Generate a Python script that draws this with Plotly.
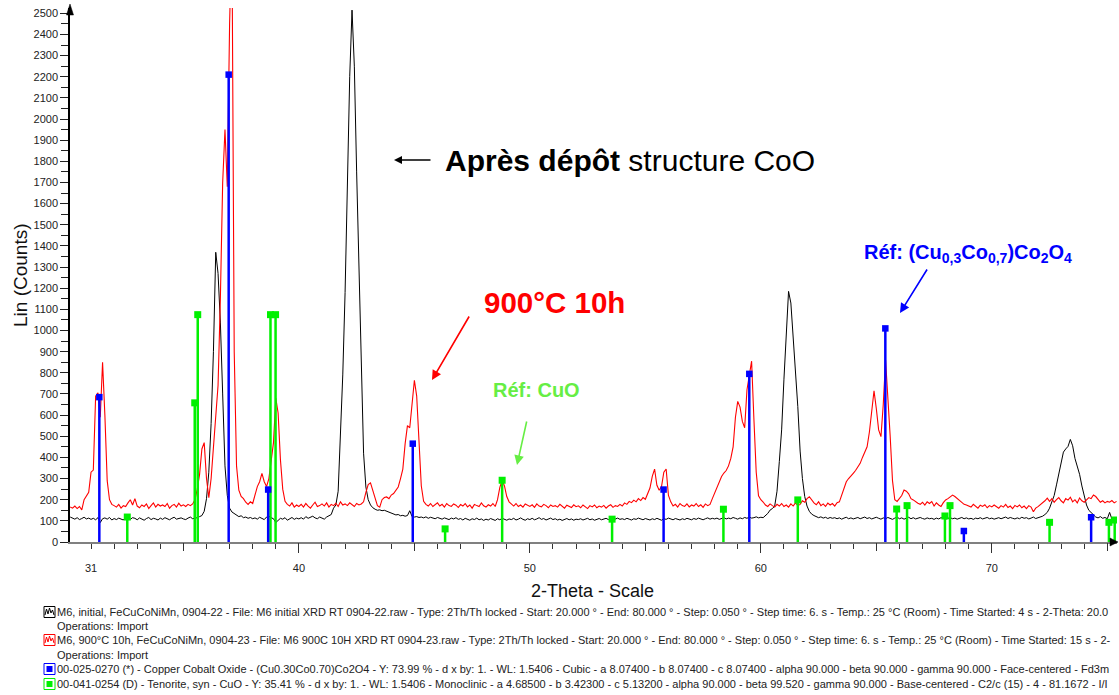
import numpy as np
import plotly.graph_objects as go

FONT = "Liberation Sans, Arial, sans-serif"

# ---------------- scan data (2-Theta, step 0.1 deg, start 30.1) ----------------
SCAN_START = 30.1
SCAN_STEP = 0.1

# M6, initial (black)
black_counts = [
    118, 112, 108, 115, 106, 111, 117, 109, 113, 107,   # 30.1-31.0
    112, 105, 115, 92, 110, 114, 108, 116, 104, 111,    # 31
    106, 113, 109, 104, 118, 110, 107, 115, 112, 105,   # 32
    114, 108, 103, 111, 116, 106, 112, 109, 104, 113,   # 33
    107, 115, 110, 105, 112, 117, 108, 111, 114, 109,   # 34
    106, 113, 118, 110, 112, 115, 120, 125, 145, 205,   # 35
    330, 560, 900, 1370, 1270, 1040, 700, 360, 220, 160,  # 36
    142, 135, 128, 120, 124, 115, 118, 112, 116, 110,   # 37
    114, 108, 117, 112, 106, 118, 122, 115, 110, 92,    # 38
    104, 112, 108, 115, 103, 110, 116, 107, 113, 109,   # 39
    115, 108, 120, 112, 117, 122, 114, 110, 118, 112,   # 40
    108, 118, 125, 130, 160, 175, 240, 480, 790, 1180,  # 41
    1680, 2200, 2515, 2250, 1750, 1300, 850, 420, 260, 200,  # 42
    175, 162, 155, 150, 152, 148, 150, 146, 140, 135,   # 43
    132, 128, 130, 124, 126, 122, 125, 148, 120, 118,   # 44
    120, 116, 118, 114, 119, 112, 117, 113, 110, 116,   # 45
    112, 108, 114, 110, 106, 113, 109, 115, 107, 111,   # 46
    104, 112, 108, 103, 110, 106, 113, 105, 109, 102,   # 47
    108, 104, 111, 106, 102, 110, 105, 112, 107, 103,   # 48
    109, 106, 112, 104, 108, 114, 107, 103, 110, 106,   # 49
    112, 105, 109, 115, 107, 111, 104, 108, 113, 106,   # 50
    110, 104, 108, 102, 107, 111, 105, 109, 103, 108,   # 51
    106, 110, 104, 108, 112, 105, 109, 103, 107, 111,   # 52
    105, 108, 112, 106, 110, 104, 109, 113, 107, 110,   # 53
    106, 112, 108, 104, 110, 107, 113, 109, 105, 111,   # 54
    108, 104, 110, 106, 112, 108, 103, 110, 107, 113,   # 55
    109, 105, 111, 107, 104, 110, 106, 112, 108, 105,   # 56
    111, 107, 113, 109, 105, 110, 114, 108, 112, 109,   # 57
    113, 107, 111, 115, 109, 113, 110, 116, 112, 108,   # 58
    114, 110, 116, 112, 118, 113, 115, 119, 114, 117,   # 59
    115, 123, 135, 151, 158, 170, 240, 380, 530, 770,   # 60
    1000, 1185, 1130, 980, 810, 640, 430, 300, 215, 170,  # 61
    145, 132, 125, 121, 115, 119, 113, 117, 111, 116,   # 62
    112, 115, 110, 114, 108, 113, 117, 110, 114, 109,   # 63
    113, 116, 110, 114, 118, 111, 115, 109, 113, 117,   # 64
    112, 108, 114, 110, 116, 111, 107, 113, 118, 110,   # 65
    114, 108, 112, 117, 110, 115, 109, 113, 116, 111,   # 66
    108, 114, 110, 112, 107, 113, 109, 115, 111, 108,   # 67
    112, 115, 110, 113, 108, 111, 116, 110, 114, 109,   # 68
    112, 107, 113, 110, 115, 109, 112, 116, 110, 113,   # 69
    108, 112, 115, 110, 114, 118, 111, 116, 112, 109,   # 70
    114, 110, 117, 112, 115, 109, 113, 118, 111, 115,   # 71
    118, 122, 130, 140, 160, 190, 220, 270, 325, 380,   # 72
    425, 440, 452, 485, 455, 395, 360, 320, 265, 220,   # 73
    175, 150, 138, 125, 118, 114, 120, 112, 116, 110,   # 74
    140, 108, 115, 112,                                 # 75.1-75.4
]

# M6, 900°C 10h (red)
red_counts = [
    165, 160, 170, 158, 168, 152, 200, 218, 235, 330,   # 30
    340, 690, 705, 590, 850, 600, 290, 200, 178, 172,   # 31
    165, 178, 160, 172, 168, 185, 200, 175, 205, 170,   # 32
    162, 175, 168, 180, 158, 172, 185, 165, 178, 170,   # 33
    175, 168, 182, 160, 172, 178, 165, 183, 170, 176,   # 34
    168, 178, 172, 180, 200, 250, 320, 440, 470, 300,   # 35
    210, 300, 440, 580, 740, 1150, 1700, 1950, 1680, 2450,  # 36
    2900, 900, 360, 245, 215, 205, 188, 178, 190, 182,  # 37
    225, 262, 285, 325, 285, 262, 300, 400, 470, 680,   # 38
    610, 390, 250, 192, 178, 170, 185, 165, 175, 168,   # 39
    178, 165, 182, 170, 160, 175, 188, 168, 172, 180,   # 40
    170, 185, 165, 178, 172, 183, 168, 190, 175, 180,   # 41
    172, 185, 178, 168, 182, 175, 180, 190, 235, 272,   # 42
    280, 245, 200, 172, 165, 200, 210, 213, 205, 222,   # 43
    229, 245, 260, 300, 345, 465, 550, 540, 640, 765,   # 44
    690, 470, 265, 192, 178, 170, 182, 168, 175, 185,   # 45
    170, 178, 165, 182, 172, 168, 180, 174, 163, 177,   # 46
    170, 182, 166, 175, 160, 178, 172, 168, 185, 171,   # 47
    165, 176, 170, 182, 168, 200, 258, 292, 265, 215,   # 48
    190, 178, 170, 182, 168, 175, 165, 180, 172, 168,   # 49
    176, 164, 180, 170, 166, 178, 172, 162, 175, 168,   # 50
    172, 165, 178, 168, 160, 174, 170, 163, 176, 167,   # 51
    171, 162, 175, 168, 158, 172, 166, 175, 162, 170,   # 52
    165, 173, 160, 170, 176, 164, 172, 168, 178, 170,   # 53
    185, 178, 192, 186, 198, 190, 205, 196, 210, 202,   # 54
    228, 255, 310, 345, 268, 245, 262, 330, 345, 220,   # 55
    190, 170, 178, 165, 182, 172, 168, 180, 166, 175,   # 56
    170, 182, 168, 176, 164, 180, 172, 178, 205, 230,   # 57
    262, 285, 310, 326, 338, 360, 395, 450, 590, 665,   # 58
    638, 570, 540, 720, 800, 855, 580, 330, 218, 200,   # 59
    189, 175, 168, 180, 172, 165, 178, 170, 182, 168,   # 60
    175, 165, 180, 170, 185, 172, 178, 195, 188, 205,   # 61
    214, 198, 185, 176, 190, 172, 180, 168, 184, 175,   # 62
    182, 170, 186, 190, 220, 250, 285, 300, 315, 325,   # 63
    338, 355, 372, 400, 425, 450, 520, 630, 715, 630,   # 64
    530, 498, 650, 860, 690, 500, 290, 200, 192, 205,   # 65
    220, 246, 240, 228, 205, 199, 190, 183, 178, 188,   # 66
    175, 190, 182, 191, 170, 185, 175, 168, 186, 199,   # 67
    205, 214, 222, 215, 205, 199, 188, 178, 175, 170,   # 68
    165, 178, 170, 160, 174, 168, 176, 162, 172, 166,   # 69
    175, 168, 160, 172, 165, 178, 163, 170, 158, 173,   # 70
    166, 175, 162, 170, 158, 172, 165, 143, 160, 167,   # 71
    175, 185, 195, 207, 192, 205, 188, 200, 210, 195,   # 72
    185, 205, 198, 212, 190, 200, 185, 208, 195, 188,   # 73
    198, 210, 205, 222, 215, 199, 188, 195, 185, 192,   # 74
    188, 196, 185, 192,                                 # 75.1-75.4
]

assert len(black_counts) == len(red_counts), (len(black_counts), len(red_counts))
two_theta = np.round(SCAN_START + SCAN_STEP * np.arange(len(black_counts)), 2)

# ---------------- reference patterns ----------------
# 00-025-0270 (Cu0.30Co0.70)Co2O4  (blue)
blue_pos = [31.36, 36.96, 38.67, 44.93, 55.79, 59.50, 65.39, 68.79, 74.30]
blue_int = [685, 2210, 248, 465, 248, 795, 1010, 52, 117]
# 00-041-0254 CuO tenorite (green)
green_pos = [32.57, 35.49, 35.62, 38.77, 38.99, 46.33, 48.80, 53.56, 58.38,
             61.60, 65.88, 66.33, 67.97, 68.19, 72.50, 75.07, 75.32]
green_int = [118, 658, 1075, 1075, 1075, 62, 292, 108, 155,
             199, 156, 172, 123, 172, 93, 93, 104]

x_tick_vals = [31, 40, 50, 60, 70]
x_mid_ticks = [35, 45, 55, 65, 75]
x_long_ticks = [40, 50, 60, 70]
X_RANGE = [30.09, 75.42]
Y_RANGE = [0, 2525]

BLUE = "#0000FF"
GREEN = "#00F000"
RED = "#FF0000"
LIGHT_GREEN = "#66EE44"

# ---------------- figure ----------------
W, H = 1119, 695
ML, MR, MT, MB = 70, 2, 8, 153
PW, PH = W - ML - MR, H - MT - MB


def PX(px):
    return (px - ML) / PW


def PY(py):
    return (H - MB - py) / PH


def sticks(pos, hts):
    xs, ys = [], []
    for p, h in zip(pos, hts):
        xs += [p, p, None]
        ys += [0, h, None]
    return xs, ys


fig = go.Figure()
fig.add_trace(go.Scatter(x=two_theta, y=black_counts, mode="lines",
                         line=dict(color="black", width=1), hoverinfo="skip"))
fig.add_trace(go.Scatter(x=two_theta, y=red_counts, mode="lines",
                         line=dict(color=RED, width=1.1), hoverinfo="skip"))
gx, gy = sticks(green_pos, green_int)
fig.add_trace(go.Scatter(x=gx, y=gy, mode="lines", line=dict(color=GREEN, width=2.5),
                         hoverinfo="skip"))
bx, by = sticks(blue_pos, blue_int)
fig.add_trace(go.Scatter(x=bx, y=by, mode="lines", line=dict(color=BLUE, width=2.5),
                         hoverinfo="skip"))
fig.add_trace(go.Scatter(x=green_pos, y=green_int, mode="markers",
                         marker=dict(symbol="square", size=7, color=GREEN), hoverinfo="skip"))
fig.add_trace(go.Scatter(x=blue_pos, y=blue_int, mode="markers",
                         marker=dict(symbol="square", size=6.5, color=BLUE), hoverinfo="skip"))
# carriers for the overlay tick axes
fig.add_trace(go.Scatter(x=[None], y=[None], xaxis="x2", yaxis="y", showlegend=False))
fig.add_trace(go.Scatter(x=[None], y=[None], xaxis="x3", yaxis="y", showlegend=False))

tick_font = dict(family=FONT, size=11, color="#222")

fig.update_layout(
    width=W, height=H,
    margin=dict(l=ML, r=MR, t=MT, b=MB),
    paper_bgcolor="white", plot_bgcolor="white",
    showlegend=False,
    font=dict(family=FONT, color="#222"),
    xaxis=dict(range=X_RANGE, tickmode="array", tickvals=x_tick_vals,
               ticktext=[str(v) for v in x_tick_vals],
               ticks="outside", ticklen=5, tickwidth=1.2, tickcolor="#333",
               minor=dict(tickmode="linear", tick0=30, dtick=1, ticks="outside",
                          ticklen=5, tickwidth=1.2, tickcolor="#333"),
               showline=True, linecolor="#808080", linewidth=2,
               showgrid=False, zeroline=False, tickfont=tick_font,
               ticklabelstandoff=10),
    xaxis2=dict(range=X_RANGE, overlaying="x", anchor="y", side="bottom",
                tickmode="array", tickvals=x_mid_ticks, ticks="outside", ticklen=8,
                tickwidth=1.2, tickcolor="#333", showticklabels=False,
                showline=False, showgrid=False, zeroline=False),
    xaxis3=dict(range=X_RANGE, overlaying="x", anchor="y", side="bottom",
                tickmode="array", tickvals=x_long_ticks, ticks="outside", ticklen=10,
                tickwidth=1.2, tickcolor="#333", showticklabels=False,
                showline=False, showgrid=False, zeroline=False),
    yaxis=dict(range=Y_RANGE, tickmode="linear", tick0=0, dtick=100,
               ticks="outside", ticklen=8, tickwidth=1.2, tickcolor="#222",
               minor=dict(tickmode="linear", tick0=0, dtick=50, ticks="outside",
                          ticklen=7, tickwidth=1.2, tickcolor="#222"),
               showline=True, linecolor="black", linewidth=1.5,
               showgrid=False, zeroline=False, tickfont=tick_font),
)


def text_ann(px, py, text, size, color, xanchor="left", angle=0):
    return dict(x=PX(px), y=PY(py), xref="paper", yref="paper", text=text,
                xanchor=xanchor, yanchor="middle", textangle=angle, showarrow=False,
                font=dict(family=FONT, size=size, color=color))


def arrow_ann(hx, hy, tx, ty, color, size=1.2):
    return dict(x=PX(hx), y=PY(hy), xref="paper", yref="paper", text="",
                showarrow=True, ax=tx - hx, ay=ty - hy, arrowhead=2, arrowsize=size,
                arrowwidth=1.6, arrowcolor=color)


ann = []
# axis titles
ann.append(text_ann(20, 275, "Lin (Counts)", 19, "#111", xanchor="center", angle=-90))
ann.append(text_ann(592, 591, "2-Theta - Scale", 18, "#111", xanchor="center"))

# chart annotations
ann.append(text_ann(443, 160, "<b>Après dépôt</b> structure CoO", 30, "black"))
ann.append(arrow_ann(394, 160, 432, 160, "black", size=1))
ann.append(text_ann(482, 302, "<b>900°C 10h</b>", 29.5, RED))
ann.append(arrow_ann(432, 380, 470, 315, RED))
ann.append(text_ann(491, 390, "<b>Réf: CuO</b>", 20, LIGHT_GREEN))
ann.append(arrow_ann(517, 465, 527, 420, LIGHT_GREEN))
ann.append(text_ann(862, 253,
                    "<b>Réf: (Cu<sub>0,3</sub>Co<sub>0,7</sub>)Co<sub>2</sub>O<sub>4</sub></b>",
                    20, BLUE))
ann.append(arrow_ann(900, 313, 928, 268, BLUE))

# legend lines
legend_rows = [
    (612, "black", "curve", "M6, initial, FeCuCoNiMn, 0904-22 - File: M6 initial XRD RT 0904-22.raw - Type: 2Th/Th locked - Start: 20.000 ° - End: 80.000 ° - Step: 0.050 ° - Step time: 6. s - Temp.: 25 °C (Room) - Time Started: 4 s - 2-Theta: 20.0"),
    (626, None, None, "Operations: Import"),
    (640, RED, "curve", "M6, 900°C 10h, FeCuCoNiMn, 0904-23 - File: M6 900C 10H XRD RT 0904-23.raw - Type: 2Th/Th locked - Start: 20.000 ° - End: 80.000 ° - Step: 0.050 ° - Step time: 6. s - Temp.: 25 °C (Room) - Time Started: 15 s - 2-"),
    (655, None, None, "Operations: Import"),
    (669, BLUE, "ref", "00-025-0270 (*) - Copper Cobalt Oxide - (Cu0.30Co0.70)Co2O4 - Y: 73.99 % - d x by: 1. - WL: 1.5406 - Cubic - a 8.07400 - b 8.07400 - c 8.07400 - alpha 90.000 - beta 90.000 - gamma 90.000 - Face-centered - Fd3m"),
    (684, GREEN, "ref", "00-041-0254 (D) - Tenorite, syn - CuO - Y: 35.41 % - d x by: 1. - WL: 1.5406 - Monoclinic - a 4.68500 - b 3.42300 - c 5.13200 - alpha 90.000 - beta 99.520 - gamma 90.000 - Base-centered - C2/c (15) - 4 - 81.1672 - I/I"),
]

shapes = []
for yy, col, kind, txt in legend_rows:
    ann.append(text_ann(55, yy, txt, 11, "#222"))
    if col is None:
        continue
    shapes.append(dict(type="rect", xref="paper", yref="paper",
                       x0=PX(44), x1=PX(55), y0=PY(yy + 5.5), y1=PY(yy - 5.5),
                       line=dict(color=col, width=1), fillcolor="white"))
    if kind == "curve":
        pts = [(45, 3), (46.5, -3), (48, 2), (49.5, -4), (51, 1), (52.5, -2), (54, 3)]
        path = "M " + " L ".join(f"{PX(a):.5f},{PY(yy + b):.5f}" for a, b in pts)
        shapes.append(dict(type="path", xref="paper", yref="paper", path=path,
                           line=dict(color=col, width=1)))
    else:
        shapes.append(dict(type="rect", xref="paper", yref="paper",
                           x0=PX(46.5), x1=PX(52.5), y0=PY(yy + 3), y1=PY(yy - 3),
                           line=dict(color=col, width=0), fillcolor=col))

# axis arrowheads
shapes.append(dict(type="path", xref="paper", yref="paper",
                   path=f"M {PX(66.5)},{PY(15)} L {PX(73.5)},{PY(15)} L {PX(70)},{PY(4)} Z",
                   fillcolor="black", line=dict(color="black", width=0.5)))
shapes.append(dict(type="path", xref="paper", yref="paper",
                   path=f"M {PX(1110)},{PY(538)} L {PX(1110)},{PY(546)} L {PX(1118)},{PY(542)} Z",
                   fillcolor="black", line=dict(color="black", width=0.5)))

fig.update_layout(annotations=ann, shapes=shapes)

fig.write_html("out.html", config={"displayModeBar": False},
               post_script="document.body.style.margin='0';")
